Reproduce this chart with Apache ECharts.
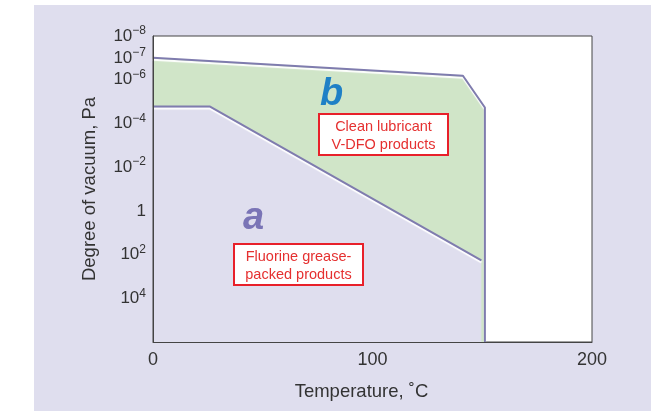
<!DOCTYPE html>
<html><head><meta charset="utf-8">
<script src="https://cdn.jsdelivr.net/npm/echarts@6/dist/echarts.min.js"></script>
<style>html,body{margin:0;padding:0;background:#fff}#c{width:654px;height:411px}</style>
</head><body><div id="c"></div>
<script>
// Data (temperature in °C, degree of vacuum in Pa)
const xTicks = [0, 100, 200];
const yTickExponents = [-8, -7, -6, -4, -2, 0, 2, 4];
const cleanT = [0, 141.2, 151.2, 151.2];
const cleanP = [1e-7, 6.6e-7, 1.86e-5, 1e6];
const greaseT = [0, 26, 149.6];
const greaseP = [1.7e-5, 1.7e-5, 186];

const FONT = '"Liberation Sans", Arial, sans-serif';
const chart = echarts.init(document.getElementById('c'), null, {renderer: 'canvas'});
const sup = v => {
  const e = Math.round(Math.log10(v));
  if (yTickExponents.indexOf(e) < 0) return '';
  if (e === 0) return '{b|1}';
  return '{b|10}{s|' + (e < 0 ? '\u2212' + (-e) : e) + '}';
};
const lineStyleFor = c => ({color: c, width: 2, shadowColor: 'rgba(255,255,255,1)', shadowBlur: 1, shadowOffsetX: 0, shadowOffsetY: 2});
const frame = {show: true, lineStyle: {color: '#444', width: 1}};
chart.setOption({
  backgroundColor: '#ffffff',
  animation: false,
  graphic: [
    {type: 'rect', z: -10, shape: {x: 34, y: 5, width: 617, height: 406}, style: {fill: '#dfdeee'}, silent: true},
    {type: 'text', z: 10, left: 320, top: 76, style: {text: 'b', font: 'italic bold 38px ' + FONT, fill: '#1f80c6'}},
    {type: 'text', z: 10, left: 243, top: 200, style: {text: 'a', font: 'italic bold 38px ' + FONT, fill: '#7a74b6'}},
    {type: 'rect', z: 10, shape: {x: 319, y: 114, width: 129, height: 41}, style: {fill: '#ffffff', stroke: '#e8202a', lineWidth: 2}},
    {type: 'text', z: 11, x: 383.5, y: 135.5, style: {text: 'Clean lubricant\nV-DFO products', align: 'center', verticalAlign: 'middle', lineHeight: 18, font: '14.5px ' + FONT, fill: '#e53030'}},
    {type: 'rect', z: 10, shape: {x: 234, y: 244, width: 129, height: 41}, style: {fill: '#ffffff', stroke: '#e8202a', lineWidth: 2}},
    {type: 'text', z: 11, x: 298.5, y: 265.5, style: {text: 'Fluorine grease-\npacked products', align: 'center', verticalAlign: 'middle', lineHeight: 18, font: '14.5px ' + FONT, fill: '#e53030'}}
  ],
  grid: {left: 153, right: 62, top: 36, bottom: 69, show: true, backgroundColor: '#ffffff', borderColor: '#444', borderWidth: 1},
  xAxis: {
    type: 'value', min: 0, max: 200, interval: 100, z: 10,
    name: 'Temperature, \u02DAC', nameLocation: 'middle', nameGap: 40,
    nameTextStyle: {fontSize: 18.5, color: '#333', fontFamily: 'Liberation Sans', padding: [0, 22, 0, 0]},
    axisLine: frame, axisTick: {show: false}, splitLine: {show: false},
    axisLabel: {fontSize: 18, color: '#333', fontFamily: 'Liberation Sans', margin: 9,
      formatter: v => xTicks.indexOf(v) >= 0 ? String(v) : ''}
  },
  yAxis: {
    type: 'log', logBase: 10, min: 1e-8, max: 1e6, interval: 1, inverse: true, z: 10,
    name: 'Degree of vacuum, Pa', nameLocation: 'middle', nameGap: 54, nameRotate: 90,
    nameTextStyle: {fontSize: 18.5, color: '#333', fontFamily: 'Liberation Sans'},
    axisLine: frame, axisTick: {show: false}, splitLine: {show: false},
    axisLabel: {margin: 7, formatter: sup, rich: {
      b: {fontSize: 17, color: '#333', fontFamily: 'Liberation Sans'},
      s: {fontSize: 12, color: '#333', fontFamily: 'Liberation Sans', padding: [0, 0, 10, 0]}
    }}
  },
  series: [
    {type: 'line', name: 'Clean lubricant V-DFO products', z: 2, symbol: 'none', silent: true,
      data: cleanT.map((t, i) => [t, cleanP[i]]),
      lineStyle: lineStyleFor('#7f7cae'),
      areaStyle: {color: '#d0e5c8', opacity: 1, origin: 'end'}},
    {type: 'line', name: 'Fluorine grease-packed products', z: 3, symbol: 'none', silent: true,
      data: greaseT.map((t, i) => [t, greaseP[i]]),
      lineStyle: lineStyleFor('#7f7cae'),
      areaStyle: {color: '#dfdeee', opacity: 1, origin: 'end'}}
  ]
});
</script></body></html>
